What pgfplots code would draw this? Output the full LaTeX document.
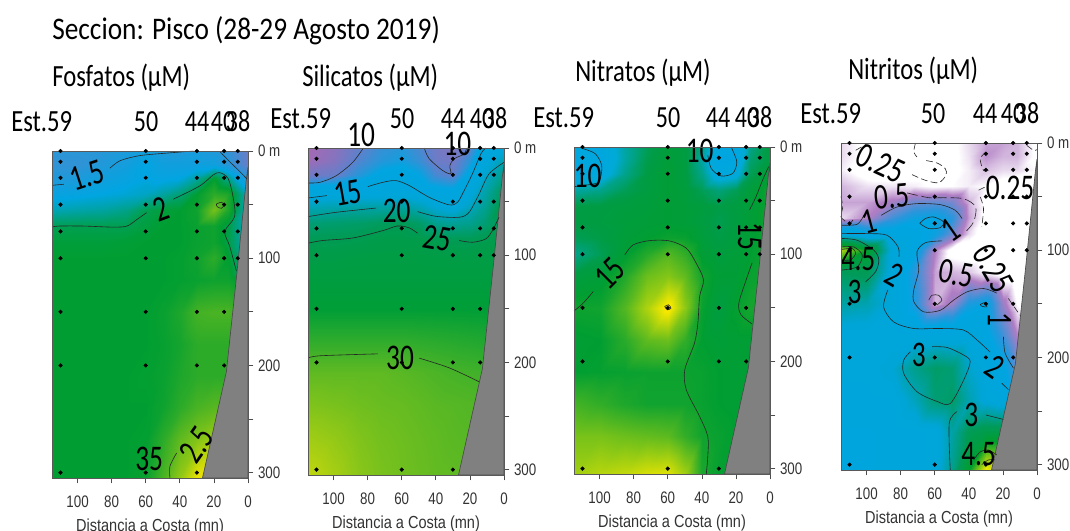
\documentclass[border=0pt]{standalone}
\usepackage{pgfplots}
\usepackage{pgfplotstable}
\usepackage{fontspec}
\setmainfont{Liberation Sans}
\newfontfamily\calib{Carlito}
\pgfplotsset{compat=1.18}
\pgfplotstableread{
x y
110 0
110 10
110 25
110 50
110 75
110 100
110 150
110 200
110 300
60 0
60 10
60 25
60 50
60 75
60 100
60 150
60 200
60 300
30 0
30 10
30 25
30 50
30 75
30 100
30 150
30 200
30 300
14 0
14 10
14 25
14 50
14 75
14 100
14 150
14 200
6 0
6 10
6 25
6 50
6 75
6 100
}\stations
\pgfplotstableread{
x y
0 15
1 27
6.4 112
12.7 206
26.7 305
0 305
}\coast
\pgfplotsset{
 panel/.style={scale only axis,width=147pt,height=245.25pt,anchor=south west,clip=false,axis on top,
  x dir=reverse,y dir=reverse,xmin=0,xmax=115,ymin=0,ymax=305,
  xtick={100,80,60,40,20,0},ytick={0,50,100,150,200,250,300},
  yticklabels={0 m,,100,,200,,300},
  /pgf/number format/assume math mode=true,
  xtick pos=bottom,ytick pos=right,tick align=outside,
  tick style={black!70,line width=0.5pt},major tick length=4pt,
  axis line style={black!65,line width=0.6pt},
  tick label style={font=\fontsize{10}{12}\selectfont,text=black!80,yscale=1.25},
  xticklabel style={yshift=-4pt},
  xlabel={Distancia a Costa (mn)},
  xlabel style={font=\fontsize{10.9}{12}\selectfont,text=black!80,yscale=1.2,yshift=0pt},
 },
 fld/.style={surf,shader=interp,point meta=explicit,mesh/rows=15,mesh/cols=11},
 ctr/.style={black!85,line width=0.45pt,smooth,no markers},
 dsh/.style={ctr,dashed,dash pattern=on 5pt off 2.5pt},
 dots/.style={only marks,mark=*,mark size=1.35pt,black,mark options={fill=black,draw=black}},
 land/.style={fill=black!50,draw=black!70,line width=0.5pt},
}
\newcommand\clab[4]{\node[font=\calib\fontsize{20.5}{22}\selectfont,rotate=#4,yscale=1.32,inner sep=0pt] at (axis cs:#1,#2) {#3};}
\newcommand\head[3]{\node[font=\calib\fontsize{18}{20}\selectfont,yscale=1.28,inner sep=0pt,yshift=-1.5pt] at (#1,#2) {#3};}
\newcommand\hleft[3]{\node[anchor=west,font=\calib\fontsize{18.5}{20}\selectfont,yscale=1.25,inner sep=0pt,yshift=-1.5pt] at (#1,#2) {#3};}
\begin{document}
\begin{tikzpicture}[x=0.75pt,y=-0.75pt]
\path[use as bounding box] (0,0) rectangle (1070,531);
\node[anchor=west,font=\calib\fontsize{20.5}{22}\selectfont,yscale=1.15,inner sep=0pt,yshift=-1.5pt] at (52,28) {Seccion: Pisco (28-29 Agosto 2019)};
\hleft{52}{75}{Fosfatos (µM)}
\hleft{302}{75}{Silicatos (µM)}
\hleft{575}{70}{Nitratos (µM)}
\hleft{848}{68}{Nitritos (µM)}
% station headers
\hleft{11}{119}{Est.59}\head{146}{119}{50}\head{197}{119}{44}\head{223}{119}{40}\head{238}{119}{38}
\hleft{270}{116}{Est.59}\head{402}{116}{50}\head{453}{116}{44}\head{482}{116}{40}\head{495}{116}{38}
\hleft{533}{115}{Est.59}\head{668}{115}{50}\head{718}{115}{44}\head{747}{115}{40}\head{760}{115}{38}
\hleft{800}{111}{Est.59}\head{933}{111}{50}\head{985}{111}{44}\head{1013}{111}{40}\head{1027}{111}{38}

% ---------- Fosfatos
\begin{axis}[panel,at={(39pt,-358.5pt)},point meta min=1,point meta max=2.9,
 colormap={p1}{rgb255(100pt)=(105,125,200); rgb255(165pt)=(0,165,225); rgb255(205pt)=(0,158,50); rgb255(290pt)=(250,230,0)}]
\addplot[fld] coordinates {
(115,0)[1.4](100,0)[1.4](85,0)[1.42](72,0)[1.48](60,0)[1.55](50,0)[1.45](40,0)[1.45](30,0)[1.5](20,0)[1.45](12,0)[1.35](0,0)[1.0]
(115,12)[1.35](100,12)[1.35](85,12)[1.45](72,12)[1.52](60,12)[1.65](50,12)[1.55](40,12)[1.55](30,12)[1.55](20,12)[1.55](12,12)[1.4](0,12)[1.0]
(115,25)[1.45](100,25)[1.48](85,25)[1.55](72,25)[1.6](60,25)[1.65](50,25)[1.62](40,25)[1.65](30,25)[1.8](20,25)[2.05](12,25)[1.85](0,25)[1.4]
(115,40)[1.6](100,40)[1.62](85,40)[1.65](72,40)[1.68](60,40)[1.72](50,40)[1.8](40,40)[1.9](30,40)[2.05](20,40)[2.2](12,40)[2.15](0,40)[1.7]
(115,55)[1.75](100,55)[1.78](85,55)[1.8](72,55)[1.85](60,55)[1.98](50,55)[2.03](40,55)[2.05](30,55)[2.1](20,55)[2.45](12,55)[2.15](0,55)[1.7]
(115,70)[1.97](100,70)[1.98](85,70)[1.98](72,70)[1.98](60,70)[2.02](50,70)[2.05](40,70)[2.05](30,70)[2.08](20,70)[2.1](12,70)[2.0](0,70)[1.7]
(115,85)[2.03](100,85)[2.03](85,85)[2.03](72,85)[2.04](60,85)[2.05](50,85)[2.05](40,85)[2.05](30,85)[2.08](20,85)[2.1](12,85)[2.0](0,85)[1.7]
(115,100)[2.05](100,100)[2.05](85,100)[2.05](72,100)[2.05](60,100)[2.05](50,100)[2.05](40,100)[2.06](30,100)[2.1](20,100)[2.2](12,100)[2.05](0,100)[1.8]
(115,120)[2.05](100,120)[2.05](85,120)[2.05](72,120)[2.05](60,120)[2.05](50,120)[2.05](40,120)[2.06](30,120)[2.08](20,120)[2.1](12,120)[2.1](0,120)[2.0]
(115,150)[2.05](100,150)[2.05](85,150)[2.05](72,150)[2.05](60,150)[2.05](50,150)[2.08](40,150)[2.15](30,150)[2.28](20,150)[2.3](12,150)[2.3](0,150)[2.2]
(115,180)[2.05](100,180)[2.05](85,180)[2.05](72,180)[2.05](60,180)[2.05](50,180)[2.07](40,180)[2.12](30,180)[2.2](20,180)[2.2](12,180)[2.2](0,180)[2.2]
(115,210)[2.05](100,210)[2.05](85,210)[2.05](72,210)[2.05](60,210)[2.06](50,210)[2.08](40,210)[2.15](30,210)[2.2](20,210)[2.2](12,210)[2.2](0,210)[2.2]
(115,240)[2.05](100,240)[2.05](85,240)[2.05](72,240)[2.05](60,240)[2.05](50,240)[2.1](40,240)[2.2](30,240)[2.3](20,240)[2.35](12,240)[2.35](0,240)[2.35]
(115,270)[2.05](100,270)[2.05](85,270)[2.05](72,270)[2.05](60,270)[2.06](50,270)[2.2](40,270)[2.38](30,270)[2.5](20,270)[2.6](12,270)[2.6](0,270)[2.6]
(115,305)[2.05](100,305)[2.05](85,305)[2.05](72,305)[2.05](60,305)[2.08](50,305)[2.3](40,305)[2.55](30,305)[2.85](20,305)[2.9](12,305)[2.9](0,305)[2.9]
};
\addplot[land] table {\coast} -- cycle;
\addplot[ctr] coordinates {(115,32)(108,31)};
\addplot[ctr] coordinates {(81,16)(75,9)(63.5,4.3)(48,2)(32,0)};
\addplot[ctr] coordinates {(16.5,0.6)(10.7,10)(4.9,19)(0.6,26)};
\addplot[ctr] coordinates {(115,71)(111,70)(96.5,70)(79,71)(71,70)(65.3,64)(59.5,57.5)};
\addplot[ctr] coordinates {(43.9,45)(28.3,32.6)(20.5,22.4)(16.6,20.2)(11.7,25.5)(8.8,42.5)(7.8,61)(13.6,75)(10.7,89)(6.8,112)};
\addplot[ctr] coordinates {(18.5,49.4)(15.6,47.8)(14,50.3)(15.6,53.4)(18.1,51.9)(18.5,49.4)};
\addplot[ctr] coordinates {(45.8,305)(45.8,294)(41.9,281.7)};
\addplot[dots] table {\stations};
\clab{94.5}{23}{1.5}{18}\clab{51.3}{54}{2}{20}\clab{30.2}{274}{2.5}{55}\clab{58}{287}{35}{0}
\end{axis}

% ---------- Silicatos
\begin{axis}[panel,at={(231pt,-356.25pt)},point meta min=7.5,point meta max=36,
 colormap={p2}{rgb255(75pt)=(165,105,180); rgb255(105pt)=(90,130,205); rgb255(130pt)=(0,165,225); rgb255(170pt)=(0,165,215); rgb255(250pt)=(0,155,85); rgb255(280pt)=(0,158,55); rgb255(360pt)=(255,232,0)}]
\addplot[fld] coordinates {
(115,0)[7.5](100,0)[8.5](85,0)[10.2](72,0)[11.5](60,0)[12](50,0)[11](40,0)[9.5](30,0)[9](20,0)[10.5](12,0)[14.5](0,0)[16]
(115,12)[7.8](100,12)[8.8](85,12)[10.8](72,12)[12](60,12)[12.5](50,12)[11.5](40,12)[9.8](30,12)[9.5](20,12)[12](12,12)[15.5](0,12)[19.5]
(115,25)[9.5](100,25)[10](85,25)[12](72,25)[13.5](60,25)[14](50,25)[13](40,25)[11](30,25)[10.3](20,25)[14](12,25)[17.5](0,25)[22]
(115,40)[14.8](100,40)[15](85,40)[14.7](72,40)[15](60,40)[15](50,40)[14.5](40,40)[13.8](30,40)[13.5](20,40)[16](12,40)[19.5](0,40)[25]
(115,55)[19](100,55)[19.5](85,55)[20](72,55)[20.1](60,55)[20.5](50,55)[19](40,55)[17](30,55)[16](20,55)[18.5](12,55)[21](0,55)[27]
(115,70)[23](100,70)[23.5](85,70)[23.8](72,70)[24.5](60,70)[25](50,70)[24](40,70)[21.5](30,70)[21](20,70)[21.5](12,70)[23](0,70)[25.5]
(115,85)[25](100,85)[25.2](85,85)[25.5](72,85)[26](60,85)[26](50,85)[26](40,85)[25.5](30,85)[25](20,85)[25](12,85)[25.5](0,85)[26]
(115,100)[26.2](100,100)[26.3](85,100)[26.5](72,100)[26.6](60,100)[26.6](50,100)[26.6](40,100)[26.5](30,100)[26.4](20,100)[26.4](12,100)[26.5](0,100)[26.5]
(115,120)[27](100,120)[27](85,120)[27](72,120)[27](60,120)[27](50,120)[27](40,120)[27](30,120)[27](20,120)[27](12,120)[27](0,120)[27]
(115,150)[28](100,150)[28](85,150)[28](72,150)[28](60,150)[28](50,150)[28](40,150)[28](30,150)[28](20,150)[28](12,150)[28](0,150)[28]
(115,180)[29.5](100,180)[29.5](85,180)[29.5](72,180)[29.5](60,180)[29.5](50,180)[29.4](40,180)[29.3](30,180)[29.2](20,180)[29.1](12,180)[29](0,180)[29]
(115,210)[31](100,210)[31](85,210)[31](72,210)[31](60,210)[30.8](50,210)[30.6](40,210)[30.4](30,210)[30.2](20,210)[30.1](12,210)[30](0,210)[30]
(115,240)[32](100,240)[31.8](85,240)[31.5](72,240)[31.3](60,240)[31.2](50,240)[31](40,240)[30.8](30,240)[30.7](20,240)[30.6](12,240)[30.5](0,240)[30.5]
(115,270)[33](100,270)[32.6](85,270)[32](72,270)[31.6](60,270)[31.4](50,270)[31.2](40,270)[31](30,270)[30.8](20,270)[30.7](12,270)[30.7](0,270)[30.7]
(115,305)[34](100,305)[33.2](85,305)[32.3](72,305)[31.8](60,305)[31.5](50,305)[31.3](40,305)[31.1](30,305)[31](20,305)[30.9](12,305)[30.9](0,305)[30.9]
};
\addplot[land] table {\coast} -- cycle;
\addplot[ctr] coordinates {(115,32.6)(108,32)(98.6,26)(88.9,13.6)(82.5,0)};
\addplot[ctr] coordinates {(46.8,0)(43.9,10)(36,21)(31.2,24)(31.8,16.5)(29.2,10)(23.4,5.6)(22,0)};
\addplot[ctr] coordinates {(115,46.6)(103.9,44.4)};
\addplot[ctr] coordinates {(79.9,36)(71.1,32)(63.4,30.4)(55.6,35)(43.9,46)(32.2,53)(27.3,50.7)(23.4,39.8)(18.5,24)(13.6,5.6)(10.7,0)};
\addplot[ctr] coordinates {(115,64)(98.6,60)(75,56)};
\addplot[ctr] coordinates {(50.7,59.3)(40,63.7)(26.3,64.6)(20.5,60)(14.6,42.9)(8.8,24.2)(0,13.4)};
\addplot[ctr] coordinates {(115,88.8)(106.5,86.3)(88.7,83.9)(71,77)(62.4,72.7)(55.6,74.5)(50.7,79.5)};
\addplot[ctr] coordinates {(26.3,86.3)(18.5,87.9)(10.7,84.8)(6.8,77)(2.9,64.6)};
\addplot[ctr] coordinates {(115,196)(108,193.8)(74,192)};
\addplot[ctr] coordinates {(49.7,196)(32.2,205)(14.6,218)};
\addplot[dots] table {\stations};
\clab{83.8}{-12}{10}{0}\clab{27.3}{-3.7}{10}{0}\clab{91.6}{42}{15}{10}\clab{63}{59}{20}{0}\clab{39}{84}{25}{-10}\clab{61}{196}{30}{0}
\end{axis}

% ---------- Nitratos
\begin{axis}[panel,at={(430.5pt,-355.5pt)},point meta min=9,point meta max=21,
 colormap={p3}{rgb255(90pt)=(0,165,225); rgb255(110pt)=(0,170,215); rgb255(138pt)=(0,156,70); rgb255(146pt)=(0,158,50); rgb255(205pt)=(245,232,0); rgb255(210pt)=(250,235,0)}]
\addplot[fld] coordinates {
(115,0)[9.8](100,0)[9.5](85,0)[12](72,0)[13.5](60,0)[14.2](50,0)[14](40,0)[12.5](30,0)[9.5](20,0)[9.5](12,0)[12.5](0,0)[14]
(115,12)[9.5](100,12)[9.5](85,12)[12](72,12)[13.7](60,12)[14.3](50,12)[14](40,12)[12](30,12)[9](20,12)[9.2](12,12)[13](0,12)[14]
(115,25)[9.8](100,25)[10](85,25)[12.5](72,25)[13.9](60,25)[14.4](50,25)[14](40,25)[12.5](30,25)[10](20,25)[10.5](12,25)[13.5](0,25)[14.5]
(115,40)[12](100,40)[12.5](85,40)[13.5](72,40)[14](60,40)[14.4](50,40)[14.2](40,40)[13.5](30,40)[12.8](20,40)[13.5](12,40)[14.2](0,40)[15]
(115,55)[13.8](100,55)[13.9](85,55)[14.1](72,55)[14.2](60,55)[14.4](50,55)[14.3](40,55)[14.1](30,55)[13.8](20,55)[14](12,55)[14.3](0,55)[15]
(115,70)[13.9](100,70)[14](85,70)[14.2](72,70)[14.3](60,70)[14.4](50,70)[14.3](40,70)[14](30,70)[13.6](20,70)[14](12,70)[14.4](0,70)[15]
(115,85)[13.5](100,85)[13.8](85,85)[14.3](72,85)[14.6](60,85)[14.9](50,85)[14.8](40,85)[14.2](30,85)[13.8](20,85)[14.1](12,85)[14.5](0,85)[15]
(115,100)[12.5](100,100)[13.5](85,100)[14.5](72,100)[15.5](60,100)[16.6](50,100)[15.8](40,100)[14.4](30,100)[14.1](20,100)[14.3](12,100)[14.6](0,100)[15]
(115,120)[14](100,120)[14.3](85,120)[15.4](72,120)[17.2](60,120)[17.8](50,120)[16.9](40,120)[15](30,120)[14.4](20,120)[14.4](12,120)[14.8](0,120)[15]
(115,150)[14.9](100,150)[15](85,150)[16.6](72,150)[18.8](60,150)[21](50,150)[18](40,150)[14.8](30,150)[14](20,150)[14.7](12,150)[15.1](0,150)[15]
(115,180)[14.5](100,180)[14.6](85,180)[15.6](72,180)[16.9](60,180)[17.2](50,180)[15.8](40,180)[14.6](30,180)[14.4](20,180)[14.5](12,180)[14.5](0,180)[14.5]
(115,210)[14.6](100,210)[14.7](85,210)[14.8](72,210)[14.9](60,210)[14.9](50,210)[14.9](40,210)[14.8](30,210)[14.6](20,210)[14.5](12,210)[14.5](0,210)[14.5]
(115,240)[16.2](100,240)[15.8](85,240)[15.3](72,240)[15](60,240)[15](50,240)[15](40,240)[14.8](30,240)[14.6](20,240)[14.5](12,240)[14.5](0,240)[14.5]
(115,270)[17.5](100,270)[17.5](85,270)[17.2](72,270)[17](60,270)[16.8](50,270)[15.8](40,270)[15](30,270)[14.8](20,270)[14.6](12,270)[14.6](0,270)[14.6]
(115,305)[18.5](100,305)[19](85,305)[19.3](72,305)[19.8](60,305)[20](50,305)[18.5](40,305)[15.2](30,305)[14.7](20,305)[14.6](12,305)[14.6](0,305)[14.6]
};
\addplot[land] table {\coast} -- cycle;
\addplot[ctr] coordinates {(110.5,1.2)(102.7,6)(98.8,16.8)(99.4,28.3)(101.8,33.8)(115,37)};
\addplot[ctr] coordinates {(36.5,7.5)(34.5,20)(28.7,27)(21.8,24.5)(19.5,13.7)(22.8,0)};
\addplot[ctr] coordinates {(115,153)(109.6,145.6)(103.7,134.8)};
\addplot[ctr] coordinates {(85.2,100.6)(80.3,91.3)(70.6,87.3)(58.9,87.6)(49.1,94.4)(43.3,108.4)(39,124)(41.3,139.4)(42.3,164)(44.3,182.9)(50,207.8)(49.1,226.5)(41.3,251.3)(36.5,270)(36.5,288.6)(37.4,305)};
\addplot[ctr] coordinates {(12,58.7)(8.2,46.3)(4.3,30.7)(0.8,18.3)};
\addplot[ctr] coordinates {(10.5,108)(14,124)(18.3,145.7)(17,156.5)(10.5,165)};
\addplot[ctr] coordinates {(61.8,148.8)(59.6,147.2)(58.1,150.3)(60.2,151.9)(61.8,148.8)};
\addplot[dots] table {\stations};
\clab{107}{27}{10}{0}\clab{41.3}{3.7}{10}{0}\clab{94}{118}{15}{45}\clab{12}{83.5}{15}{-90}
\end{axis}

% ---------- Nitritos
\begin{axis}[panel,at={(630.75pt,-352.5pt)},point meta min=0.05,point meta max=5.5,
 colormap={p4}{rgb255(5pt)=(255,255,255); rgb255(25pt)=(255,255,255); rgb255(60pt)=(175,125,195); rgb255(120pt)=(40,150,220); rgb255(150pt)=(0,165,225); rgb255(220pt)=(0,165,215); rgb255(320pt)=(0,155,90); rgb255(400pt)=(0,158,45); rgb255(550pt)=(250,235,0)}]
\addplot[fld] coordinates {
(115,0)[0.35](100,0)[0.2](85,0)[0.15](72,0)[0.15](60,0)[0.15](50,0)[0.2](40,0)[0.35](30,0)[0.5](20,0)[0.5](12,0)[0.45](0,0)[0.2]
(115,12)[0.35](100,12)[0.2](85,12)[0.1](72,12)[0.15](60,12)[0.15](50,12)[0.2](40,12)[0.33](30,12)[0.55](20,12)[0.45](12,12)[0.45](0,12)[0.2]
(115,25)[0.3](100,25)[0.15](85,25)[0.1](72,25)[0.15](60,25)[0.15](50,25)[0.2](40,25)[0.3](30,25)[0.42](20,25)[0.35](12,25)[0.35](0,25)[0.25]
(115,40)[0.45](100,40)[0.33](85,40)[0.32](72,40)[0.3](60,40)[0.22](50,40)[0.25](40,40)[0.3](30,40)[0.25](20,40)[0.15](12,40)[0.1](0,40)[0.1]
(115,55)[0.5](100,55)[0.5](85,55)[0.65](72,55)[0.9](60,55)[0.95](50,55)[0.85](40,55)[0.45](30,55)[0.2](20,55)[0.1](12,55)[0.05](0,55)[0.05]
(115,70)[0.35](100,70)[0.6](85,70)[1.1](72,70)[1.4](60,70)[1.5](50,70)[1.2](40,70)[0.5](30,70)[0.18](20,70)[0.05](12,70)[0.05](0,70)[0.05]
(115,85)[2](100,85)[1.6](85,85)[1.7](72,85)[1.6](60,85)[1.4](50,85)[0.9](40,85)[0.35](30,85)[0.12](20,85)[0.05](12,85)[0.05](0,85)[0.05]
(115,100)[5](100,100)[4](85,100)[2.1](72,100)[1.6](60,100)[0.6](50,100)[0.15](40,100)[0.1](30,100)[0.1](20,100)[0.05](12,100)[0.05](0,100)[0.05]
(115,120)[3.2](100,120)[3.3](85,120)[2](72,120)[1.2](60,120)[0.5](50,120)[0.45](40,120)[0.4](30,120)[0.25](20,120)[0.1](12,120)[0.05](0,120)[0.05]
(115,150)[2.6](100,150)[2.5](85,150)[2.1](72,150)[1.3](60,150)[0.45](50,150)[0.7](40,150)[1.3](30,150)[1.5](20,150)[0.7](12,150)[0.25](0,150)[0.05]
(115,180)[2](100,180)[2](85,180)[2](72,180)[2](60,180)[2](50,180)[1.95](40,180)[2](30,180)[1.6](20,180)[1.1](12,180)[0.6](0,180)[0.4]
(115,210)[2](100,210)[2](85,210)[2.2](72,210)[2.8](60,210)[3.1](50,210)[3](40,210)[2.3](30,210)[2](20,210)[1.6](12,210)[0.9](0,210)[0.6]
(115,240)[1.9](100,240)[1.9](85,240)[1.95](72,240)[2.4](60,240)[3](50,240)[3.1](40,240)[2.5](30,240)[2.1](20,240)[1.9](12,240)[1.9](0,240)[1.9]
(115,270)[1.8](100,270)[1.8](85,270)[1.85](72,270)[1.9](60,270)[2](50,270)[2.6](40,270)[3.3](30,270)[3.5](20,270)[3.5](12,270)[3.5](0,270)[3.5]
(115,305)[1.8](100,305)[1.8](85,305)[1.85](72,305)[1.9](60,305)[2](50,305)[2.8](40,305)[4](30,305)[5.5](20,305)[5](12,305)[5](0,305)[5]
};
\addplot[land] table {\coast} -- cycle;
% 0.25
\addplot[dsh] coordinates {(106.4,6.8)(99.6,0.6)};
\addplot[dsh] coordinates {(73.3,29.5)(65.5,34.8)(57.7,37)(53.4,30)(53.8,24)(58.7,18.6)(66.5,16)};
\addplot[dsh] coordinates {(71.3,0)(72.3,8.4)(70.4,13)};
\addplot[dsh] coordinates {(29.8,8.4)(33.3,14.6)(31.4,25.5)(28.5,25.5)};
\addplot[dsh] coordinates {(34.3,44)(30.4,41)};
\addplot[dsh] coordinates {(33.3,50.3)(31.4,61)(32.4,78)};
\addplot[dsh] coordinates {(6,2.2)(2,6.8)(0,6.2)};
\addplot[dsh] coordinates {(115,50)(114,60)(115,69)(110,75)(107,69)};
\addplot[dsh] coordinates {(16.8,145)(10,160.6)};
\addplot[ctr] coordinates {(63.5,146.6)(61.6,142)(57.7,142)(55.8,146.6)(58.7,151)};
% 0.5
\addplot[dsh,dash pattern=on 8pt off 3pt] coordinates {(76.2,46.6)(63.5,51)(54.8,51)(43,52)(36,59.6)(37.2,73.6)(42,83)};
% 1
\addplot[ctr] coordinates {(115,76.7)(105.5,75.8)(101.6,67.4)};
\addplot[ctr] coordinates {(91.4,67.4)(82,59.6)(70.4,56.5)(56.7,57.5)(48,62.7)(44,70.5)};
\addplot[ctr] coordinates {(55.7,91.3)(65.5,93)(70.4,101.5)(69.4,118.6)(72.3,137)(72.3,148)(66.5,157.5)(56.7,156)(49,146.6)(41,138.8)(31.4,135.7)(23.6,140)};
\addplot[ctr] coordinates {(19.7,180.7)(18.7,196)(13.8,210)};
\addplot[ctr] coordinates {(68.8,75)(65.5,70.5)(60.6,69)(54.8,73.6)(56.7,78.9)(63.5,79.8)(68.8,75)};
% 2
\addplot[ctr] coordinates {(115,84.5)(99.6,84.5)(88,86)(81.5,97)(81,106)};
\addplot[ctr] coordinates {(87.5,137)(90,153)(84,167)(72.3,173)(56.7,173)(43,174.5)(35,184)(27.5,195)};
\addplot[ctr] coordinates {(20.7,224)(16.8,230)};
\addplot[ctr] coordinates {(33.3,150.6)(30.4,148.8)(29.4,152.8)(32.4,152.2)(33.3,150.6)};
% 3 and 4.5
\addplot[ctr] coordinates {(115,89)(105.5,90.7)(95.7,100)(92.8,109)(94.7,120)(100.6,129.5)};
\addplot[ctr] coordinates {(115,97)(107.4,97)(102.5,104.7)(105.5,115.5)(115,118.6)};
\addplot[ctr] coordinates {(115,99.4)(108.4,98.4)(106.4,103)(109.4,109)(115,109)};
\addplot[ctr] coordinates {(61.6,190)(52.8,190.7)(43,197.8)(39.2,204)(43,221)(50.9,243)(58.7,241)(70.4,232)(78.2,215)(78.2,202.5)(74.3,194.7)};
\addplot[ctr] coordinates {(50.9,305)(51.5,261.5)(47,250.6)};
\addplot[ctr] coordinates {(30,253.7)(19.7,257.8)};
\addplot[ctr] coordinates {(37.2,295.6)(33.3,288)(28.5,286.3)(23.6,291)};
\addplot[ctr] coordinates {(32.4,300)(28.5,295.6)(24.6,295.6)};
\addplot[dots] table {\stations};
\clab{91.8}{19}{0.25}{-25}\clab{15.8}{41.6}{0.25}{0}\clab{25.5}{117}{0.25}{-60}
\clab{85}{50}{0.5}{5}\clab{47.4}{121.7}{0.5}{-10}
\clab{98.6}{73.6}{1}{15}\clab{50.5}{81}{1}{35}\clab{22}{165}{1}{-90}
\clab{83.5}{122.7}{2}{-30}\clab{25}{209}{2}{-35}
\clab{69.4}{198}{3}{0}\clab{107}{139}{3}{0}\clab{38.6}{253.7}{3}{0}
\clab{105}{108}{4.5}{0}\clab{34.3}{290}{4.5}{0}
\end{axis}
\end{tikzpicture}
\end{document}
